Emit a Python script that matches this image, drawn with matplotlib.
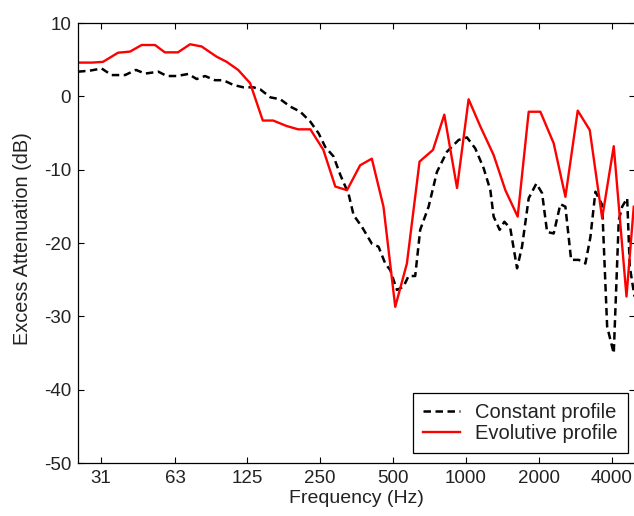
import numpy as np
import matplotlib
matplotlib.use("Agg")
import matplotlib.pyplot as plt
from matplotlib.ticker import FixedLocator, NullLocator

# constant profile (dashed black)
freq_const = [25, 28, 31.3, 34.4, 39.1, 43.4, 47.3, 53.7, 58.2, 63.9, 71.4, 77.3,
              83.7, 92.0, 99.6, 109.6, 120.6, 132.6, 141.5, 155.9, 171.3, 188.3,
              207.2, 227.8, 246.6, 262.6, 284.2, 303, 327.8, 343.9, 372.3, 409.2,
              435.9, 464.8, 487.5, 519.3, 553, 580, 618, 648, 702, 760, 836, 934,
              1011, 1094, 1185, 1263, 1303, 1380, 1443, 1527, 1628, 1707, 1819,
              1956, 2066, 2167, 2307, 2459, 2579, 2723, 2926, 3119, 3271, 3431,
              3658, 3836, 4085, 4284, 4424, 4641, 4757, 4975]
att_const = [3.36, 3.5, 3.8, 2.9, 2.9, 3.6, 3.1, 3.36, 2.77, 2.77, 3.05, 2.36,
             2.77, 2.2, 2.2, 1.55, 1.23, 1.23, 0.95, -0.14, -0.4, -1.4,
             -2.1, -3.45, -5.05, -6.9, -8.2, -10.7, -13.3, -16.2, -17.8, -20.1,
             -20.5, -22.8, -23.7, -26.4, -25.95, -24.5, -24.5, -18.2, -15.05, -10.3, -7.55, -5.95,
             -5.6, -7.1, -9.8, -12.8, -16.4, -18.2, -17.1, -18.0, -23.45, -20.5, -13.9,
             -11.9, -13.2, -18.5, -18.7, -14.7, -15.05, -22.3, -22.3, -22.8, -19.2, -13.0,
             -14.8, -31.4, -35.05, -16.9, -15.05, -13.9, -23.2, -27.3]

# evolutive profile (solid red)
freq_evol = [25, 28.5, 31.7, 36.6, 41, 45.8, 52, 57.1, 64.7, 72.6, 81, 93.5,
             102.9, 114.7, 128.5, 145, 160, 182, 203, 228, 258, 289, 323, 366,
             409, 457, 511, 571, 644, 732, 815, 920, 1027, 1148, 1303, 1457,
             1638, 1819, 2032, 2307, 2579, 2900, 3251, 3658, 4085, 4611, 4941]
att_evol = [4.6, 4.6, 4.7, 5.95, 6.1, 7.0, 7.0, 6.0, 6.0, 7.1, 6.8, 5.4,
            4.7, 3.6, 1.8, -3.3, -3.3, -4.05, -4.5, -4.5, -7.3, -12.3, -12.8, -9.4,
            -8.5, -15.05, -28.7, -22.8, -8.9, -7.3, -2.5, -12.5, -0.4, -4.1, -8.0, -12.8,
            -16.4, -2.1, -2.1, -6.4, -13.7, -1.95, -4.6, -16.6, -6.8, -27.3, -15.05]

xticks = [31, 63, 125, 250, 500, 1000, 2000, 4000]
xticklabels = ['31', '63', '125', '250', '500', '1000', '2000', '4000']
yticks = [-50, -40, -30, -20, -10, 0, 10]

plt.rcParams['font.family'] = ['Liberation Sans', 'DejaVu Sans']
plt.rcParams['axes.unicode_minus'] = False
txt = '#222222'

fig = plt.figure(figsize=(6.34, 5.16), dpi=100)
ax = fig.add_axes([78 / 634, 1 - 463 / 516, 557 / 634, 440 / 516])

ax.plot(freq_const, att_const, color='black', lw=1.8, dashes=(3, 1.8),
        label='Constant profile')
ax.plot(freq_evol, att_evol, color='red', lw=1.7, label='Evolutive profile')

ax.set_xscale('log')
ax.set_xlim(25, 5000)
ax.set_ylim(-50, 10)
ax.xaxis.set_major_locator(FixedLocator(xticks))
ax.xaxis.set_minor_locator(NullLocator())
ax.set_xticklabels(xticklabels)
ax.set_yticks(yticks)

ax.tick_params(direction='in', length=4, width=0.8, top=True, right=True,
               labelsize=13.5, labelcolor=txt, pad=5)
for s in ax.spines.values():
    s.set_linewidth(0.9)

ax.set_xlabel('Frequency (Hz)', fontsize=14, color=txt, labelpad=2)
ax.set_ylabel('Excess Attenuation (dB)', fontsize=14.3, color=txt)
ax.yaxis.set_label_coords(-0.083, 0.51)

leg = ax.legend(loc='lower right', bbox_to_anchor=(0.987, 0.022), borderaxespad=0,
                fontsize=14.5, fancybox=False, framealpha=1, edgecolor='black',
                handlelength=1.85, handletextpad=0.75, borderpad=0.5, labelspacing=0.12)
leg.get_frame().set_linewidth(0.9)
for t in leg.get_texts():
    t.set_color(txt)

fig.savefig('out.png', dpi=100)
